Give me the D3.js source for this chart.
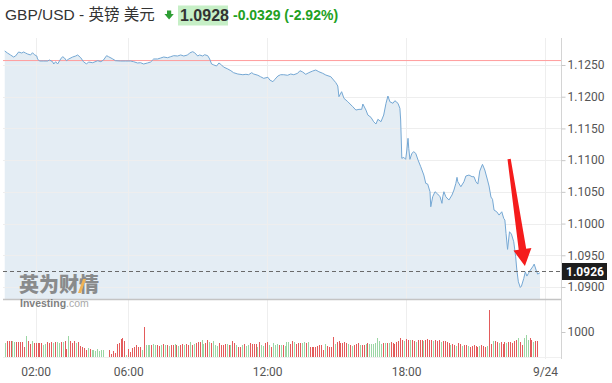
<!DOCTYPE html>
<html>
<head>
<meta charset="utf-8">
<script src="https://cdn.jsdelivr.net/npm/d3@7"></script>
<style>
  body { margin: 0; background: #fff; }
  svg { display: block; font-family: "Liberation Sans", Arial, "Noto Sans CJK SC", sans-serif; }
</style>
</head>
<body>
<div id="chart"></div>
<script>
// GBP/USD intraday, 9/23 -> 9/24
var symbolTitle = "GBP/USD - 英镑 美元";
var lastPrice = "1.0928";
var changeText = "-0.0329 (-2.92%)";
var prevClose = 1.1257;
var currentPrice = 1.0926;

// price trace: minutes after midnight, price
var priceMinutes = [40,47,55,63,68,76,84,89,94,99,107,112,117,123,125,130,141,151,156,164,167,172,177,185,190,195,200,206,216,224,229,237,244,252,257,268,281,289,296,304,309,320,327,340,353,366,374,384,392,400,410,418,426,436,444,452,462,470,478,488,496,504,514,519,527,532,540,545,553,558,566,571,576,582,589,595,602,607,618,626,633,644,657,665,672,680,685,696,703,711,722,727,735,740,748,755,763,773,781,789,799,805,812,820,828,838,846,854,864,872,885,898,903,906,913,919,929,942,950,958,965,968,976,981,989,996,1002,1007,1015,1022,1028,1033,1038,1046,1051,1059,1064,1066,1069,1074,1079,1082,1085,1087,1090,1095,1100,1105,1111,1118,1126,1131,1136,1142,1144,1149,1155,1162,1168,1173,1175,1178,1183,1191,1199,1204,1209,1212,1214,1222,1230,1235,1243,1251,1256,1261,1266,1271,1278,1284,1291,1295,1300,1304,1308,1315,1321,1328,1333,1336,1339,1343,1348,1353,1359,1364,1367,1371,1376,1379,1385,1389,1393,1397,1402,1408,1412,1417,1421,1427];
var priceValues = [1.12721,1.12689,1.12658,1.12626,1.12642,1.12705,1.12689,1.12705,1.12689,1.12674,1.12658,1.12694,1.12662,1.12642,1.12595,1.12563,1.12563,1.12563,1.12579,1.12552,1.12516,1.12552,1.12516,1.12595,1.12631,1.12610,1.12568,1.12595,1.12626,1.12642,1.12658,1.12615,1.12552,1.12516,1.12547,1.12536,1.12568,1.12552,1.12579,1.12647,1.12631,1.12595,1.12568,1.12563,1.12563,1.12563,1.12552,1.12532,1.12536,1.12516,1.12532,1.12547,1.12595,1.12595,1.12610,1.12626,1.12615,1.12631,1.12647,1.12642,1.12658,1.12642,1.12658,1.12689,1.12710,1.12694,1.12642,1.12658,1.12642,1.12662,1.12647,1.12595,1.12516,1.12500,1.12484,1.12532,1.12500,1.12468,1.12437,1.12410,1.12379,1.12358,1.12347,1.12353,1.12347,1.12379,1.12358,1.12338,1.12315,1.12290,1.12306,1.12263,1.12237,1.12274,1.12327,1.12347,1.12347,1.12338,1.12358,1.12347,1.12369,1.12410,1.12390,1.12353,1.12379,1.12405,1.12421,1.12394,1.12369,1.12342,1.12315,1.12221,1.12169,1.12000,1.12079,1.11975,1.11921,1.11842,1.11790,1.11801,1.11801,1.11885,1.11790,1.11711,1.11675,1.11606,1.11570,1.11644,1.11606,1.11711,1.11896,1.12011,1.11921,1.11896,1.11937,1.11896,1.11817,1.11633,1.11029,1.11044,1.11013,1.11160,1.11344,1.11186,1.11013,1.11107,1.11133,1.11107,1.11002,1.10896,1.10765,1.10634,1.10623,1.10502,1.10265,1.10423,1.10502,1.10465,1.10423,1.10319,1.10423,1.10502,1.10423,1.10371,1.10450,1.10528,1.10634,1.10729,1.10660,1.10581,1.10660,1.10750,1.10765,1.10739,1.10739,1.10660,1.10623,1.10828,1.10934,1.10844,1.10686,1.10592,1.10418,1.10382,1.10213,1.10186,1.10134,1.10186,1.10082,1.10055,1.09845,1.09593,1.09871,1.09834,1.09713,1.09476,1.09267,1.09082,1.08993,1.09014,1.09135,1.09240,1.09172,1.09214,1.09267,1.09318,1.09361,1.09267,1.09203,1.09225];

// 5 minute volume bars starting 00:40, g = up, r = down
var volStart = 40, volStep = 5;
var volumes = [
  560,660,640,650,630,610,620,600,590,610,400,850,
  630,530,660,560,560,560,560,560,500,510,600,560,
  590,560,600,590,560,590,590,630,330,850,630,560,
  630,560,590,450,400,350,290,360,330,290,270,240,
  320,240,290,270,0,0,270,130,230,160,530,560,
  720,780,630,90,320,190,360,400,490,400,420,270,
  1200,480,470,500,490,520,470,490,450,500,510,470,
  490,450,500,470,520,480,460,500,520,480,510,470,
  590,500,520,560,620,610,680,510,570,680,610,570,
  640,490,460,560,470,470,510,510,490,470,640,560,
  470,410,400,470,510,440,490,560,510,510,510,400,
  590,470,440,560,590,490,400,560,490,510,470,470,
  470,440,590,590,510,640,590,510,560,560,560,590,
  560,590,400,400,400,420,450,470,490,270,510,440,
  400,410,790,510,590,640,560,560,590,560,510,490,
  440,490,510,560,490,470,490,510,560,510,510,510,
  560,760,640,510,560,560,560,560,590,560,510,590,
  640,750,700,650,720,700,680,700,650,620,680,700,
  690,650,700,720,680,700,650,680,640,700,620,660,
  650,600,560,500,520,480,450,560,520,440,480,500,
  460,420,440,500,460,420,440,470,430,410,450,1900,
  507,640,640,587,547,587,507,587,547,587,587,547,
  640,680,747,620,480,773,880,680,747,680,620,640,640
];
var volDir =
  "grrrggrrrrrg" + "rrgrrrrrggrr" + "rgrggrgrrgrr" + "rgrrrrrgrggg" +
  "ggggrrrrrrrr" + "rrrgrrrrrrrg" + "rgggrggrrgrg" + "rgrrgrgrrgrr" +
  "grgrrrggrrgr" + "gggrrrrgrgrr" + "grrgrggrrrrg" + "rggrrgrgggrg" +
  "rgggrrgrrrgg" + "rgrrrrrrrrgr" + "rrrgrrrrrrgr" + "grrrgrrgrggg" +
  "ggggrgrgrrrr" + "rrrgrrgrrgrr" + "rgrrrrgrrrgr" + "rrrgrrgrrgrr" +
  "grrrrrgrrrgr" + "rgrrgrrrgrrr" + "rrgrrgggrrgrr";

var yTicks = [1.09, 1.095, 1.10, 1.105, 1.11, 1.115, 1.12, 1.125];
var volTicks = [1000];
var xTicks = [120, 360, 720, 1080, 1440];
var xLabels = ["02:00", "06:00", "12:00", "18:00", "9/24"];

// annotation arrow (time, price) tail -> tip
var arrowFrom = [1347, 1.11018];
var arrowTo = [1388, 1.0933];

var width = 612, height = 383;
var plotLeft = 3, plotRight = 561, plotTop = 38, priceBottom = 299, volBottom = 357;

var svg = d3.select("#chart").append("svg")
  .attr("width", width)
  .attr("height", height);

var x = d3.scaleLinear().domain([120, 1440]).range([35.6, 545]);
var y = d3.scaleLinear().domain([1.09, 1.125]).range([287, 65]);
var yv = d3.scaleLinear().domain([0, 1000]).range([volBottom, 332]);

var pts = d3.zip(priceMinutes, priceValues);

// area under the price line
var area = d3.area()
  .x(function(d) { return x(d[0]); })
  .y0(priceBottom)
  .y1(function(d) { return y(d[1]); });

svg.append("path")
  .datum(pts)
  .attr("d", area)
  .attr("fill", "#e4edf4");

// grid
svg.append("g").selectAll("line")
  .data(yTicks).enter().append("line")
  .attr("x1", plotLeft).attr("x2", plotRight)
  .attr("y1", function(d) { return Math.round(y(d)) + 0.5; })
  .attr("y2", function(d) { return Math.round(y(d)) + 0.5; })
  .attr("stroke", "#eeeeee");

svg.append("g").selectAll("line")
  .data(xTicks).enter().append("line")
  .attr("x1", function(d) { return Math.round(x(d)) + 0.5; })
  .attr("x2", function(d) { return Math.round(x(d)) + 0.5; })
  .attr("y1", plotTop).attr("y2", volBottom + 2)
  .attr("stroke", "#eeeeee");

// previous close
svg.append("line")
  .attr("x1", plotLeft).attr("x2", plotRight)
  .attr("y1", y(prevClose)).attr("y2", y(prevClose))
  .attr("stroke", "#ff9d9d").attr("stroke-width", 1);

// price line
var line = d3.line()
  .x(function(d) { return x(d[0]); })
  .y(function(d) { return y(d[1]); });

svg.append("path")
  .datum(pts)
  .attr("d", line)
  .attr("fill", "none")
  .attr("stroke", "#75a8d4")
  .attr("stroke-width", 1);

// current price dashed line
svg.append("line")
  .attr("x1", plotLeft).attr("x2", plotRight)
  .attr("y1", Math.round(y(currentPrice)) + 0.5).attr("y2", Math.round(y(currentPrice)) + 0.5)
  .attr("stroke", "#6a6a6a").attr("stroke-dasharray", "4,3");

// panel divider
svg.append("line")
  .attr("x1", plotLeft).attr("x2", plotRight)
  .attr("y1", priceBottom + 0.5).attr("y2", priceBottom + 0.5)
  .attr("stroke", "#c4c4c4").attr("stroke-width", 1.5);

// volume baseline
svg.append("line")
  .attr("x1", plotLeft).attr("x2", plotRight)
  .attr("y1", volBottom + 0.5).attr("y2", volBottom + 0.5)
  .attr("stroke", "#f0f0f0");

// volume bars
svg.append("g").selectAll("rect")
  .data(volumes).enter().append("rect")
  .attr("shape-rendering", "crispEdges")
  .attr("x", function(d, i) { return Math.round(x(volStart + i * volStep)); })
  .attr("width", 1)
  .attr("y", function(d) { return yv(d); })
  .attr("height", function(d) { return volBottom - yv(d); })
  .attr("fill", function(d, i) { return volDir[i] === "g" ? "#9bd6a4" : "#e35b5b"; });

// watermark
var wm = svg.append("g").attr("opacity", 0.85);
wm.append("text")
  .attr("x", 19).attr("y", 292)
  .attr("font-family", "'Noto Sans CJK SC', sans-serif")
  .attr("font-weight", "900")
  .attr("font-size", 20)
  .attr("letter-spacing", 0)
  .attr("fill", "#7a7a7a")
  .text("英为财情");
wm.append("path")
  .attr("d", "M78,293 L83,279 L86,279 L81,293 Z")
  .attr("fill", "#f2a93b");
var inv = wm.append("text")
  .attr("x", 20).attr("y", 307)
  .attr("font-size", 10.5)
  .attr("fill", "#6a6a6a");
inv.append("tspan").attr("font-weight", "bold").text("Investing");
inv.append("tspan").attr("fill", "#9a9a9a").text(".com");

// red arrow annotation
(function() {
  var t = [x(arrowFrom[0]), y(arrowFrom[1])];
  var p = [x(arrowTo[0]), y(arrowTo[1])];
  var dx = p[0] - t[0], dy = p[1] - t[1];
  var len = Math.sqrt(dx * dx + dy * dy);
  var u = [dx / len, dy / len], n = [-u[1], u[0]];
  var b = [p[0] - 17 * u[0], p[1] - 17 * u[1]];
  function off(o, k) { return [o[0] + k * n[0], o[1] + k * n[1]]; }
  var poly = [off(t, 1.6), off(b, 3.8), off(b, 9), p, off(b, -9), off(b, -3.8), off(t, -1.6)];
  svg.append("path")
    .attr("d", "M" + poly.map(function(q) { return q[0].toFixed(1) + "," + q[1].toFixed(1); }).join("L") + "Z")
    .attr("fill", "#f51c1c");
})();

// right axis
svg.append("line")
  .attr("x1", plotRight + 0.5).attr("x2", plotRight + 0.5)
  .attr("y1", plotTop).attr("y2", volBottom + 2)
  .attr("stroke", "#d4d4d4");

var yAxis = d3.axisRight(y).tickValues(yTicks).tickFormat(d3.format(".4f")).tickSize(4).tickPadding(2);
var gy = svg.append("g").attr("transform", "translate(" + (plotRight + 0.5) + ",0)").call(yAxis);
gy.select(".domain").remove();
gy.selectAll("line").attr("stroke", "#c8c8c8");
gy.selectAll("text").attr("font-size", 12).attr("fill", "#555").attr("font-family", "Roboto, 'Liberation Sans', sans-serif");

var vAxis = d3.axisRight(yv).tickValues(volTicks).tickFormat(d3.format("d")).tickSize(4).tickPadding(2);
var gv = svg.append("g").attr("transform", "translate(" + (plotRight + 0.5) + ",0)").call(vAxis);
gv.select(".domain").remove();
gv.selectAll("line").attr("stroke", "#c8c8c8");
gv.selectAll("text").attr("font-size", 12).attr("fill", "#555").attr("font-family", "Roboto, 'Liberation Sans', sans-serif");

// current price tag
var cy = Math.round(y(currentPrice)) + 0.5;
svg.append("rect")
  .attr("x", plotRight + 1).attr("y", cy - 8.5)
  .attr("width", 45).attr("height", 17)
  .attr("fill", "#1d1d1d");
svg.append("text")
  .attr("x", plotRight + 5).attr("y", cy).attr("dy", "0.36em")
  .attr("font-size", 12).attr("font-weight", "bold").attr("fill", "#fff")
  .attr("font-family", "Roboto, 'Liberation Sans', sans-serif")
  .text(currentPrice.toFixed(4));

// bottom axis
var xAxis = d3.axisBottom(x).tickValues(xTicks)
  .tickFormat(function(d, i) { return xLabels[i]; })
  .tickSize(0).tickPadding(10);
var gx = svg.append("g").attr("transform", "translate(0," + volBottom + ")").call(xAxis);
gx.select(".domain").remove();
gx.selectAll("text").attr("font-size", 12).attr("fill", "#555").attr("font-family", "Roboto, 'Liberation Sans', sans-serif");

// header
svg.append("text")
  .attr("x", 5).attr("y", 20)
  .attr("font-size", 15.5).attr("fill", "#333")
  .text(symbolTitle);
svg.append("path")
  .attr("d", "M167,10.5 L171.2,10.5 L171.2,14 L173.8,14 L169.1,19.5 L164.4,14 L167,14 Z")
  .attr("fill", "#2e9e35");
svg.append("rect")
  .attr("x", 178).attr("y", 5.5).attr("width", 50).attr("height", 20)
  .attr("fill", "#c6efc6");
svg.append("text")
  .attr("x", 180).attr("y", 20.5)
  .attr("font-size", 16).attr("font-weight", "bold").attr("fill", "#333")
  .text(lastPrice);
svg.append("text")
  .attr("x", 233).attr("y", 20)
  .attr("font-size", 14).attr("font-weight", "bold").attr("fill", "#22a022")
  .text(changeText);
</script>
</body>
</html>
